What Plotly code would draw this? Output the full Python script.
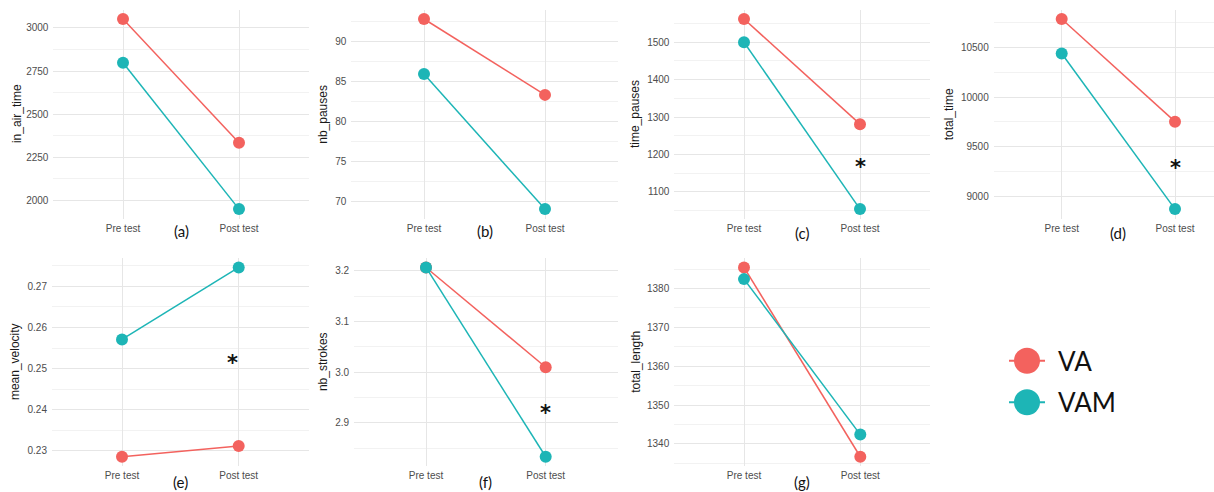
import plotly.graph_objects as go

W, H = 1214, 492

# ---------------- data ----------------
phases = ["Pre test", "Post test"]
groups = ["VA", "VAM"]

in_air_time_VA = [3052, 2333]
in_air_time_VAM = [2798, 1948]
nb_pauses_VA = [92.8, 83.3]
nb_pauses_VAM = [85.9, 69.0]
time_pauses_VA = [1562, 1281]
time_pauses_VAM = [1500, 1054]
total_time_VA = [10786, 9752]
total_time_VAM = [10439, 8871]
mean_velocity_VA = [0.2286, 0.2312]
mean_velocity_VAM = [0.2571, 0.2746]
nb_strokes_VA = [3.2065, 3.0095]
nb_strokes_VAM = [3.2065, 2.833]
total_length_VA = [1385.4, 1336.7]
total_length_VAM = [1382.4, 1342.4]

metric_names = ["in_air_time", "nb_pauses", "time_pauses", "total_time",
                "mean_velocity", "nb_strokes", "total_length"]
panel_labels = ["(a)", "(b)", "(c)", "(d)", "(e)", "(f)", "(g)"]
major_dticks = [250, 5, 100, 500, 0.01, 0.1, 10]
tick_formats = ["d", "d", "d", "d", ".2f", ".1f", "d"]

# significance markers: (panel index, x position, y value)
sig_panels = [2, 3, 4, 5]
sig_x = [1, 1, 0.95, 1]
sig_y = [1177, 9327, 0.2523, 2.927]

series = [
    (in_air_time_VA, in_air_time_VAM),
    (nb_pauses_VA, nb_pauses_VAM),
    (time_pauses_VA, time_pauses_VAM),
    (total_time_VA, total_time_VAM),
    (mean_velocity_VA, mean_velocity_VAM),
    (nb_strokes_VA, nb_strokes_VAM),
    (total_length_VA, total_length_VAM),
]

colors = {"VA": "#F3625E", "VAM": "#1DB5B6"}

# ---------------- layout geometry (pixels) ----------------
# (pre px, post px, top px, bottom px, ytitle center x px)
geom = [
    (123, 239, 9.5, 218.6, 17),
    (424, 545, 9.5, 218.6, 322.7),
    (744, 860, 9.5, 218.6, 635),
    (1061.7, 1175, 9.5, 218.6, 949.3),
    (122, 238.7, 258, 466.2, 15),
    (426, 545.7, 258, 466.2, 323),
    (744, 860.3, 258, 466.2, 635.7),
]
label_y_px = [231.5, 231.5, 233, 233, 481.7, 481.7, 482]

fig = go.Figure()
layout = dict(
    width=W, height=H,
    margin=dict(l=0, r=0, t=0, b=0),
    paper_bgcolor="white", plot_bgcolor="white",
    showlegend=False,
    annotations=[],
)

grid_major = "#E6E6E6"
grid_minor = "#F2F2F2"
tick_font = dict(family="Liberation Sans", size=10, color="#4D4D4D")

for i, ((va, vam), (pre, post, top, bot, tx)) in enumerate(zip(series, geom)):
    n = i + 1
    xa = "x" if n == 1 else f"x{n}"
    ya = "y" if n == 1 else f"y{n}"
    sp = post - pre
    left = pre - 0.6 * sp
    right = post + 0.6 * sp
    xr_hi = 1.6
    if right > W:
        xr_hi = 1 + (W - post) / sp
        right = W
    for g, vals in zip(groups, (va, vam)):
        fig.add_trace(go.Scatter(
            x=[0, 1], y=vals, mode="lines+markers", name=g,
            line=dict(color=colors[g], width=1.5),
            marker=dict(color=colors[g], size=12),
            xaxis=xa, yaxis=ya, cliponaxis=False,
        ))
    allv = list(va) + list(vam)
    lo, hi = min(allv), max(allv)
    ex = 0.05 * (hi - lo)
    dt = major_dticks[i]
    layout["xaxis" if n == 1 else f"xaxis{n}"] = dict(
        domain=[left / W, right / W], range=[-0.6, xr_hi],
        tickvals=[0, 1], ticktext=phases, showline=False, zeroline=False,
        showgrid=True, gridcolor=grid_major, gridwidth=1.1,
        tickfont=tick_font, ticks="", ticklabelstandoff=2,
        anchor=ya, fixedrange=True,
    )
    layout["yaxis" if n == 1 else f"yaxis{n}"] = dict(
        domain=[1 - bot / H, 1 - top / H], range=[lo - ex, hi + ex],
        dtick=dt, tick0=0, tickformat=tick_formats[i],
        showline=False, zeroline=False,
        showgrid=True, gridcolor=grid_major, gridwidth=1.1,
        minor=dict(dtick=dt / 2, tick0=0, showgrid=True, gridcolor=grid_minor, gridwidth=0.6),
        tickfont=tick_font, ticks="", ticklabelstandoff=4, anchor=xa, fixedrange=True,
    )
    # y-axis title
    layout["annotations"].append(dict(
        text=metric_names[i], xref="paper", yref="paper",
        x=tx / W, y=1 - (top + bot) / 2 / H, xanchor="center", yanchor="middle",
        textangle=-90, showarrow=False,
        font=dict(family="Liberation Sans", size=12, color="#1A1A1A"),
    ))
    # panel label
    layout["annotations"].append(dict(
        text=panel_labels[i], xref="paper", yref="paper",
        x=((pre + post) / 2) / W, y=1 - label_y_px[i] / H,
        xanchor="center", yanchor="middle", showarrow=False,
        font=dict(family="Lato, Open Sans", size=15, color="#111111"),
    ))

for p, sx, sy in zip(sig_panels, sig_x, sig_y):
    n = p + 1
    layout["annotations"].append(dict(
        text="<b>*</b>", xref="x" if n == 1 else f"x{n}", yref="y" if n == 1 else f"y{n}",
        x=sx, y=sy, xanchor="center", yanchor="middle", yshift=-4, showarrow=False,
        font=dict(family="DejaVu Sans", size=21, color="#111111"),
    ))

# ---------------- custom legend ----------------
for k, g in enumerate(groups):
    fig.add_trace(go.Scatter(
        x=[-1, 0, 1], y=[k, k, k], mode="lines", line=dict(color=colors[g], width=2),
        xaxis="x8", yaxis="y8", cliponaxis=False, hoverinfo="skip",
    ))
    fig.add_trace(go.Scatter(
        x=[0], y=[k], mode="markers", marker=dict(color=colors[g], size=26),
        xaxis="x8", yaxis="y8", cliponaxis=False, hoverinfo="skip",
    ))
    layout["annotations"].append(dict(
        text=g, xref="paper", yref="y8", x=1056 / W, y=k,
        xanchor="left", yanchor="middle", showarrow=False,
        font=dict(family="Lato, Open Sans", size=26, color="#111111"),
    ))
layout["xaxis8"] = dict(domain=[1009 / W, 1045 / W], range=[-1, 1], visible=False,
                        anchor="y8", fixedrange=True)
layout["yaxis8"] = dict(domain=[1 - 423 / H, 1 - 340 / H], range=[1.5, -0.5], visible=False,
                        anchor="x8", fixedrange=True)

fig.update_layout(**layout)
fig.write_html("out.html", config={"displayModeBar": False},
               post_script="document.body.style.margin='0px';")
